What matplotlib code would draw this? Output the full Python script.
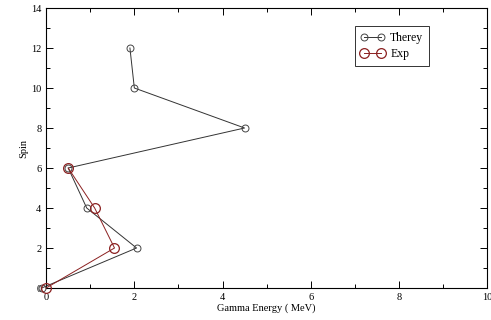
import numpy as np
import matplotlib.pyplot as plt
from matplotlib.ticker import MultipleLocator

plt.rcParams['font.family'] = ['Liberation Serif', 'DejaVu Serif']

# level schemes: gamma energy (MeV) against spin
theory_energy = [-0.1, 2.05, 0.92, 0.5, 4.5, 2.0, 1.9]
theory_spin = [0, 2, 4, 6, 8, 10, 12]
exp_energy = [0.0, 1.55, 1.1, 0.5]
exp_spin = [0, 2, 4, 6]

fig, ax = plt.subplots(figsize=(4.91, 3.20), dpi=100)
fig.subplots_adjust(left=0.094, right=0.992, top=0.975, bottom=0.1)

ax.plot(theory_energy, theory_spin, color='#333333', linewidth=0.7,
        marker='o', markersize=5, markerfacecolor='none',
        markeredgecolor='#444444', markeredgewidth=0.7, label='Therey',
        clip_on=False, zorder=3)
ax.plot(exp_energy, exp_spin, color='#8b2020', linewidth=0.7,
        marker='o', markersize=7, markerfacecolor='none',
        markeredgecolor='#8b2020', markeredgewidth=0.9, label='Exp',
        clip_on=False, zorder=3)

ax.set_xlim(0, 10)
ax.set_ylim(0, 14)
ax.xaxis.set_major_locator(MultipleLocator(2))
ax.xaxis.set_minor_locator(MultipleLocator(1))
ax.yaxis.set_major_locator(MultipleLocator(2))
ax.yaxis.set_minor_locator(MultipleLocator(1))
ax.tick_params(which='both', direction='in', top=True, right=True,
               labelsize=7.5, width=0.7)
ax.tick_params(which='major', length=5)
ax.tick_params(which='minor', length=3)
for s in ax.spines.values():
    s.set_linewidth(0.8)

ax.set_xlabel('Gamma Energy ( MeV)', fontsize=7.5, labelpad=1)
ax.set_ylabel('Spin', fontsize=7.5, labelpad=2)

leg = ax.legend(loc='upper left', bbox_to_anchor=(0.70, 0.935), fontsize=8.5,
                frameon=True, fancybox=False, edgecolor='black',
                numpoints=2, handlelength=2.0, borderpad=0.5,
                labelspacing=0.3, handletextpad=0.5, borderaxespad=0)
leg.get_frame().set_linewidth(0.7)

fig.savefig('out.png', dpi=100)
